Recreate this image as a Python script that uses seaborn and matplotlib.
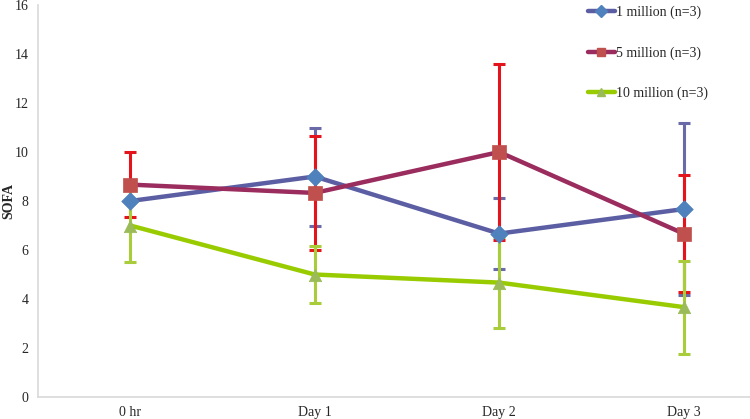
import matplotlib
matplotlib.use("Agg")
import matplotlib.pyplot as plt
import seaborn as sns
import pandas as pd
from matplotlib.lines import Line2D

# values
timepoints = ["0 hr", "Day 1", "Day 2", "Day 3"]
series_names = ["1 million (n=3)", "5 million (n=3)", "10 million (n=3)"]
sofa_1m = [8.0, 9.0, 6.67, 7.67]
sofa_5m = [8.67, 8.33, 10.0, 6.67]
sofa_10m = [7.0, 5.0, 4.67, 3.67]
err_1m = [0.0, 2.0, 1.45, 3.5]
err_5m = [1.33, 2.33, 3.6, 2.4]
err_10m = [1.5, 1.15, 1.87, 1.9]

line_colors = ["#5c5ea3", "#9a2c5e", "#99cc00"]
marker_faces = ["#4f81bd", "#c0504d", "#9bbb59"]
err_colors = ["#6a6aa8", "#e3141c", "#a8cc3a"]
markers = ["D", "s", "^"]

df = pd.DataFrame({
    "time": timepoints * 3,
    "x": list(range(len(timepoints))) * 3,
    "SOFA": sofa_1m + sofa_5m + sofa_10m,
    "err": err_1m + err_5m + err_10m,
    "group": [s for s in series_names for _ in timepoints],
})

sns.set_style("white")
plt.rcParams["font.family"] = ["Liberation Serif", "DejaVu Serif"]

fig = plt.figure(figsize=(7.5, 4.19), dpi=100)
ax = fig.add_axes([0.0507, 0.0525, 0.9493, 0.9355])

# error bars first, lines on top
for name, ec in zip(series_names, err_colors):
    sub = df[df["group"] == name]
    ax.errorbar(sub["x"], sub["SOFA"], yerr=sub["err"], fmt="none",
                ecolor=ec, elinewidth=2.2, capsize=4, capthick=2.2, zorder=2)

sns.lineplot(data=df, x="x", y="SOFA", hue="group", hue_order=series_names,
             palette=line_colors, linewidth=3.2, legend=False, ax=ax,
             zorder=3)

for name, mk, fc in zip(series_names, markers, marker_faces):
    sub = df[df["group"] == name]
    sns.scatterplot(x=sub["x"], y=sub["SOFA"], marker=mk, s=110 if mk == "s" else 80,
                    color=fc, edgecolor=fc, linewidth=0.5, ax=ax, zorder=4,
                    legend=False)

ax.set_xlim(-0.5, 3.36)
ax.set_ylim(0, 16)
ax.set_yticks(range(0, 17, 2))
ax.set_xticks(range(len(timepoints)))
ax.set_xticklabels(timepoints)
ax.set_xticks([-0.5, 0.5, 1.5, 2.5], minor=True)
ax.tick_params(axis="x", which="major", length=0, labelsize=10, pad=6.5)
ax.tick_params(axis="x", which="minor", length=4, color="#d9d9d9", direction="out")
ax.tick_params(axis="y", length=4, color="#d9d9d9", direction="out", labelsize=10, pad=3)
ax.set_xlabel("")
ax.set_ylabel("SOFA", fontweight="bold", fontsize=10, va="center")
ax.yaxis.set_label_coords(-0.041, 0.5)

for side in ["top", "right"]:
    ax.spines[side].set_visible(False)
for side in ["left", "bottom"]:
    ax.spines[side].set_color("#d9d9d9")
    ax.spines[side].set_linewidth(1.2)

handles = [Line2D([0], [0], color=lc, lw=3.2, marker=mk, markerfacecolor=fc,
                  markeredgecolor=fc, markersize=6)
           for lc, mk, fc in zip(line_colors, markers, marker_faces)]
ax.legend(handles, series_names, loc="upper left", bbox_to_anchor=(0.765, 1.013),
          frameon=False, fontsize=10, handlelength=1.9, handletextpad=0.1,
          labelspacing=1.95, borderaxespad=0)

fig.savefig("out.png", dpi=100)
